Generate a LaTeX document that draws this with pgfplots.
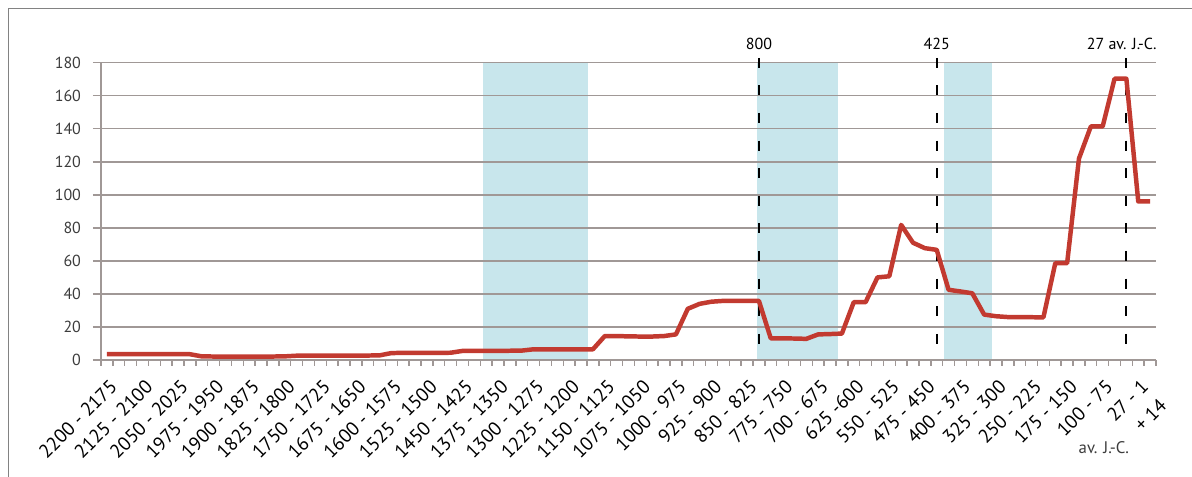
\documentclass[border=0pt]{standalone}
\usepackage{fontspec}
\setmainfont{PT Sans}
\usepackage{pgfplots}
\pgfplotsset{compat=1.18}

\definecolor{linered}{RGB}{194,58,48}
\definecolor{shade}{RGB}{200,230,236}
\definecolor{gridc}{RGB}{160,152,150}
\definecolor{framec}{RGB}{130,130,130}
\definecolor{labc}{RGB}{60,60,60}

\begin{document}
\begin{tikzpicture}
\begin{axis}[
    name=ax, at={(0,0)}, anchor=south west,
    scale only axis, width=659.4pt, height=185.8pt,
    xmin=-0.5, xmax=88.5, ymin=0, ymax=180,
    set layers, clip=false,
    axis x line*=bottom, axis y line*=left,
    axis line style={gridc, line width=0.9pt, -},
    tick align=outside,
    major tick length=5pt, minor tick length=3.75pt,
    tick style={gridc, line width=0.9pt},
    major x tick style={draw=none},
    /pgf/number format/assume math mode=true,
    ytick={0,20,...,180},
    ymajorgrids, major grid style={gridc, line width=0.9pt},
    yticklabel style={font=\fontsize{10}{12}\selectfont, text=labc, xshift=-4pt},
    xtick={0,3,...,84,87},
    minor xtick={-0.5,0.5,...,88.5},
    xticklabels={2200 - 2175, 2125 - 2100, 2050 - 2025, 1975 - 1950,
        1900 - 1875, 1825 - 1800, 1750 - 1725, 1675 - 1650, 1600 - 1575,
        1525 - 1500, 1450 - 1425, 1375 - 1350, 1300 - 1275, 1225 - 1200,
        1150 - 1125, 1075 - 1050, 1000 - 975, 925 - 900, 850 - 825,
        775 - 750, 700 - 675, 625 -600, 550 - 525, 475 - 450, 400 - 375,
        325 - 300, 250 - 225, 175 - 150, 100 - 75, 27 - 1},
    xticklabel style={font=\fontsize{12}{14}\selectfont, yshift=-5pt, xshift=1pt, rotate=45, anchor=north east, inner sep=1pt},
]
% periodes en bleu
\addplot[fill=shade, draw=none, on layer=axis background] coordinates {(31.7,0) (40.56,0) (40.56,180) (31.7,180)} --cycle;
\addplot[fill=shade, draw=none, on layer=axis background] coordinates {(54.8,0) (61.65,0) (61.65,180) (54.8,180)} --cycle;
\addplot[fill=shade, draw=none, on layer=axis background] coordinates {(70.6,0) (74.7,0) (74.7,180) (70.6,180)} --cycle;

% reperes
\addplot[black, line width=1.25pt, dash pattern=on 6.25pt off 11pt] coordinates {(55,183) (55,0)};
\addplot[black, line width=1.25pt, dash pattern=on 6.25pt off 11pt] coordinates {(70,183) (70,0)};
\addplot[black, line width=1.25pt, dash pattern=on 6.25pt off 11pt] coordinates {(86,183) (86,0)};

\addplot[linered, line width=2.8pt, line join=round] coordinates {
(0,3.5) (1,3.5) (2,3.5) (3,3.5) (4,3.5) (5,3.5) (6,3.5) (7,3.5)
(8,2.2) (9,2.1) (10,2.1) (11,2.1) (12,2.1) (13,2.1) (14,2.1) (15,2.2)
(16,2.6) (17,2.6) (18,2.6) (19,2.6) (20,2.7) (21,2.7) (22,2.7) (23,2.8)
(24,4.2) (25,4.3) (26,4.3) (27,4.3) (28,4.3) (29,4.4)
(30,5.5) (31,5.5) (32,5.5) (33,5.5) (34,5.6) (35,5.7)
(36,6.5) (37,6.5) (38,6.5) (39,6.5) (40,6.5) (41,6.5)
(42,14.5) (43,14.5) (44,14.3) (45,14.2) (46,14.2) (47,14.5) (48,15.5)
(49,31) (50,34) (51,35.3) (52,35.8) (53,35.8) (54,35.8) (55,35.8)
(56,13.1) (57,13.1) (58,13) (59,12.8) (60,15.5) (61,15.7) (62,16)
(63,35) (64,35) (65,50) (66,50.7) (67,81.8) (68,71) (69,67.7) (70,66.7)
(71,42.5) (72,41.5) (73,40.4) (74,27.5) (75,26.5) (76,26) (77,25.9) (78,25.9) (79,25.8)
(80,58.6) (81,58.6) (82,122) (83,141.4) (84,141.4) (85,170.3) (86,170.3) (87,96) (88,96)
};

\node[font=\fontsize{10}{12}\selectfont] at (axis cs:55,191.5) {800};
\node[font=\fontsize{10}{12}\selectfont] at (axis cs:70,191.5) {425};
\node[font=\fontsize{10}{12}\selectfont] at (axis cs:85.6,191.5) {27 av. J.-C.};
\node[font=\fontsize{10.5}{12}\selectfont, text=labc] at (axis cs:84.1,-53.3) {av. J.-C.};
\node[font=\fontsize{12}{14}\selectfont, inner sep=1pt, rotate=45, anchor=north east] at ([xshift=5pt,yshift=-22pt]axis cs:88,0) {+ 14};
\end{axis}
\draw[framec, line width=0.6pt] (-58.1pt,-73.125pt) -- (-58.1pt,220pt) -- (681.875pt,220pt);
\pgfresetboundingbox
\path[use as bounding box] (-63.125pt,-73.125pt) rectangle (681.875pt,225pt);
\end{tikzpicture}
\end{document}
